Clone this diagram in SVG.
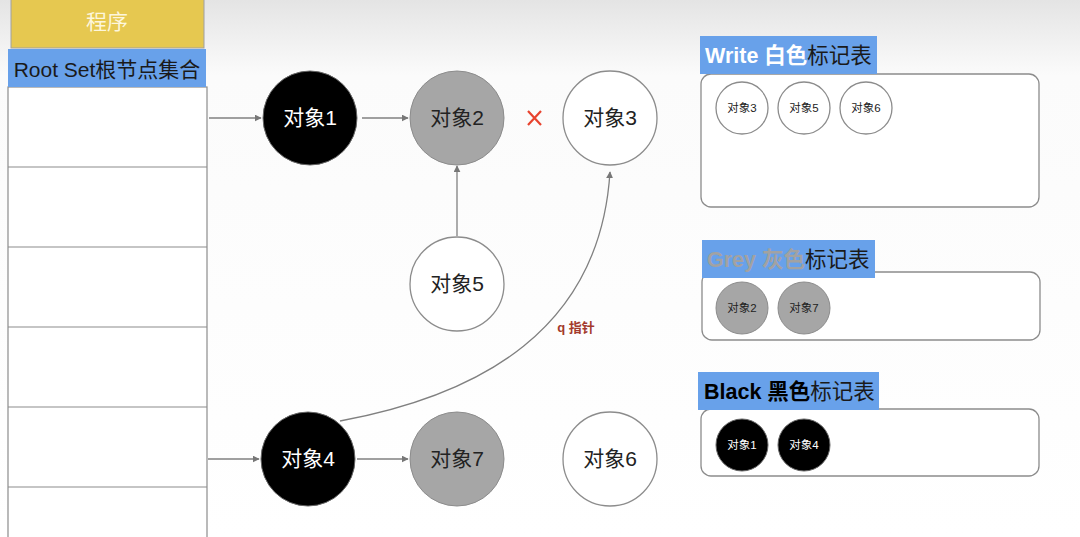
<svg xmlns="http://www.w3.org/2000/svg" width="1080" height="537" viewBox="0 0 1080 537">
<defs>
<linearGradient id="bg" x1="0" y1="0" x2="0" y2="1">
<stop offset="0" stop-color="#e4e4e4"/>
<stop offset="0.14" stop-color="#fbfbfb"/>
<stop offset="1" stop-color="#ffffff"/>
</linearGradient>
<marker id="arr" viewBox="0 0 10 10" refX="9" refY="5" markerWidth="7" markerHeight="7" orient="auto" markerUnits="userSpaceOnUse">
<path d="M0,0 L10,5 L0,10 z" fill="#777"/>
</marker>
<style>
text{font-family:"Liberation Sans","Noto Sans CJK SC",sans-serif;}
.cn{fill:none;stroke:#808080;stroke-width:1.3;}
.blk{fill:#000;stroke:#666;stroke-width:1;}
.gry{fill:#a6a6a6;stroke:#8c8c8c;stroke-width:1;}
.wht{fill:#fff;stroke:#8c8c8c;stroke-width:1.3;}
.big{font-size:21px;text-anchor:middle;}
.sm{font-size:11.5px;text-anchor:middle;}
.hdr{fill:#68a1ea;}
.panel{fill:#fff;stroke:#8c8c8c;stroke-width:1.3;}
.row{stroke:#8c8c8c;stroke-width:1.2;}
</style>
</defs>
<rect x="0" y="0" width="1080" height="537" fill="url(#bg)"/>

<g id="program">
<rect x="11" y="-1" width="193" height="49" fill="#e6c850" stroke="#a0a0a0" stroke-width="1"/>
<text x="107" y="29" class="big" fill="#fdf6dc">程序</text>
</g>

<g id="rootset">
<rect x="8" y="87" width="199" height="460" fill="#fff" stroke="#8c8c8c" stroke-width="1.2"/>
<line class="row" x1="8" y1="167" x2="207" y2="167"/>
<line class="row" x1="8" y1="247" x2="207" y2="247"/>
<line class="row" x1="8" y1="327" x2="207" y2="327"/>
<line class="row" x1="8" y1="407" x2="207" y2="407"/>
<line class="row" x1="8" y1="487" x2="207" y2="487"/>
<rect x="8" y="49" width="198" height="38" class="hdr"/>
<text x="107" y="77" font-size="21" text-anchor="middle" fill="#1a1a1a">Root Set根节点集合</text>
</g>

<g id="connectors">
<line class="cn" x1="209" y1="118" x2="261" y2="118" marker-end="url(#arr)"/>
<line class="cn" x1="362" y1="118" x2="408" y2="118" marker-end="url(#arr)"/>
<line class="cn" x1="457" y1="236" x2="457" y2="166" marker-end="url(#arr)"/>
<line class="cn" x1="208" y1="459" x2="259" y2="459" marker-end="url(#arr)"/>
<line class="cn" x1="357" y1="459" x2="408" y2="459" marker-end="url(#arr)"/>
<path class="cn" d="M340,421 C480,395 600,330 610,172" marker-end="url(#arr)"/>
<text x="576" y="332" font-size="13" font-weight="bold" fill="#a33a2c" text-anchor="middle">q 指针</text>
<path d="M528,111 L541,125 M541,111 L528,125" stroke="#e8432e" stroke-width="2.2" fill="none"/>
</g>

<g id="obj1"><circle cx="310" cy="118" r="47" class="blk"/><text x="310" y="125" class="big" fill="#fff">对象1</text></g>
<g id="obj2"><circle cx="457" cy="118" r="47" class="gry"/><text x="457" y="125" class="big" fill="#222">对象2</text></g>
<g id="obj3"><circle cx="610" cy="118" r="47" class="wht"/><text x="610" y="125" class="big" fill="#222">对象3</text></g>
<g id="obj5"><circle cx="457" cy="284" r="47" class="wht"/><text x="457" y="291" class="big" fill="#222">对象5</text></g>
<g id="obj4"><circle cx="308" cy="459" r="47" class="blk"/><text x="308" y="466" class="big" fill="#fff">对象4</text></g>
<g id="obj7"><circle cx="457" cy="459" r="47" class="gry"/><text x="457" y="466" class="big" fill="#222">对象7</text></g>
<g id="obj6"><circle cx="610" cy="459" r="47" class="wht"/><text x="610" y="466" class="big" fill="#222">对象6</text></g>

<g id="white-table">
<rect x="701" y="74" width="338" height="133" rx="10" class="panel"/>
<rect x="700" y="36" width="177" height="38" class="hdr"/>
<text x="705" y="63" font-size="21.5"><tspan font-weight="bold" fill="#fff">Write 白色</tspan><tspan fill="#1a1a1a">标记表</tspan></text>
<circle cx="742" cy="108" r="26" class="wht"/><text x="742" y="112" class="sm" fill="#222">对象3</text>
<circle cx="804" cy="108" r="26" class="wht"/><text x="804" y="112" class="sm" fill="#222">对象5</text>
<circle cx="866" cy="108" r="26" class="wht"/><text x="866" y="112" class="sm" fill="#222">对象6</text>
</g>

<g id="grey-table">
<rect x="702" y="272" width="338" height="68" rx="10" class="panel"/>
<rect x="702" y="240" width="173" height="38" class="hdr"/>
<text x="707" y="267" font-size="21.5"><tspan font-weight="bold" fill="#a2a2a2">Grey 灰色</tspan><tspan fill="#1a1a1a">标记表</tspan></text>
<circle cx="742" cy="308" r="26" class="gry"/><text x="742" y="312" class="sm" fill="#222">对象2</text>
<circle cx="804" cy="308" r="26" class="gry"/><text x="804" y="312" class="sm" fill="#222">对象7</text>
</g>

<g id="black-table">
<rect x="701" y="409" width="338" height="67" rx="10" class="panel"/>
<rect x="698" y="372" width="181" height="38" class="hdr"/>
<text x="704" y="399" font-size="21.5"><tspan font-weight="bold" fill="#000">Black 黑色</tspan><tspan fill="#1a1a1a">标记表</tspan></text>
<circle cx="742" cy="445" r="26" class="blk"/><text x="742" y="449" class="sm" fill="#fff">对象1</text>
<circle cx="804" cy="445" r="26" class="blk"/><text x="804" y="449" class="sm" fill="#fff">对象4</text>
</g>
</svg>
